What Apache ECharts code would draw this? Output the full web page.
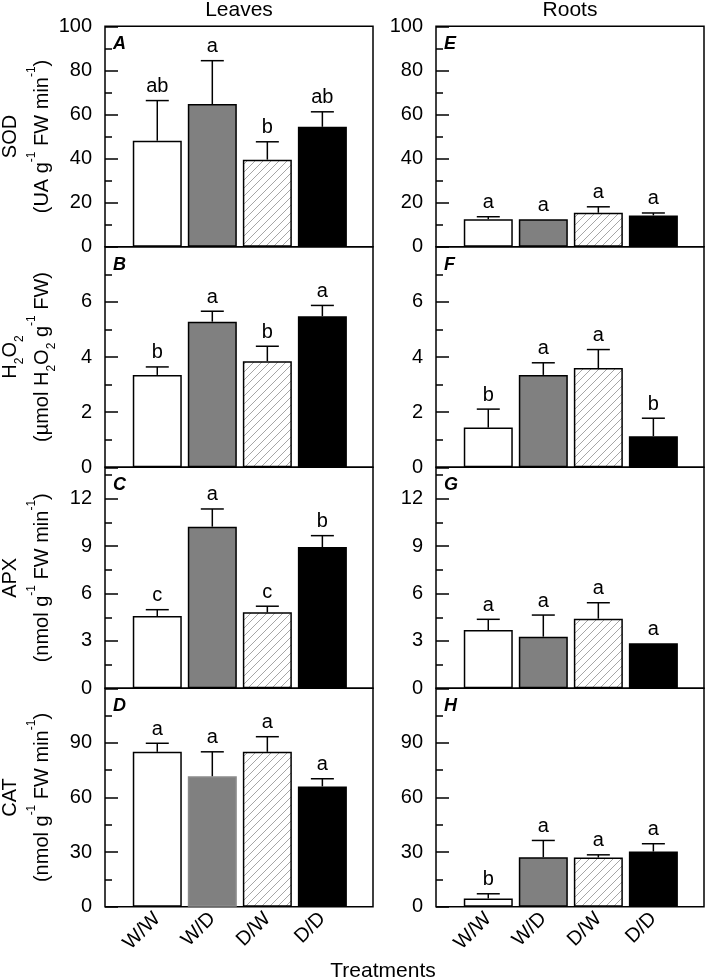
<!DOCTYPE html>
<html><head><meta charset="utf-8">
<script src="https://cdn.jsdelivr.net/npm/echarts@6/dist/echarts.min.js"></script>
<style>html,body{margin:0;padding:0;background:#fff}#c{width:706px;height:979px}</style>
</head><body><div id="c"></div>
<script>
// ---------- data ----------
const categories = ['W/W', 'W/D', 'D/W', 'D/D'];
const xPositions = [1, 2, 3, 4];

// Leaves
const sodLeaves = [48.1, 64.7, 39.5, 54.4];
const sodLeavesErr = [18.2, 19.7, 8.1, 6.8];
const sodLeavesLetters = ['ab', 'a', 'b', 'ab'];
const h2o2Leaves = [3.35, 5.28, 3.85, 5.48];
const h2o2LeavesErr = [0.29, 0.38, 0.54, 0.39];
const h2o2LeavesLetters = ['b', 'a', 'b', 'a'];
const apxLeaves = [4.58, 10.24, 4.81, 8.95];
const apxLeavesErr = [0.40, 1.12, 0.39, 0.72];
const apxLeavesLetters = ['c', 'a', 'c', 'b'];
const catLeaves = [85.1, 71.7, 85.1, 66.1];
const catLeavesErr = [4.7, 13.4, 8.3, 4.2];
const catLeavesLetters = ['a', 'a', 'a', 'a'];

// Roots
const sodRoots = [12.5, 12.4, 15.4, 14.2];
const sodRootsErr = [1.1, 0, 2.7, 1.1];
const sodRootsLetters = ['a', 'a', 'a', 'a'];
const h2o2Roots = [1.44, 3.35, 3.6, 1.13];
const h2o2RootsErr = [0.67, 0.44, 0.67, 0.65];
const h2o2RootsLetters = ['b', 'a', 'a', 'b'];
const apxRoots = [3.69, 3.27, 4.41, 2.85];
const apxRootsErr = [0.68, 1.37, 1.01, 0];
const apxRootsLetters = ['a', 'a', 'a', 'a'];
const catRoots = [4.5, 27.2, 27.0, 30.3];
const catRootsErr = [2.6, 9.2, 1.5, 4.3];
const catRootsLetters = ['b', 'a', 'a', 'a'];

// axis ticks
const sodMax = 100, sodTicks = [0, 20, 40, 60, 80, 100], sodMinor = [10, 30, 50, 70, 90];
const h2o2Max = 8, h2o2Ticks = [0, 2, 4, 6], h2o2Minor = [1, 3, 5, 7];
const apxMax = 14, apxTicks = [0, 3, 6, 9, 12], apxMinor = [1.5, 4.5, 7.5, 10.5, 13.5];
const catMax = 120, catTicks = [0, 30, 60, 90], catMinor = [15, 45, 75, 105];

const columnTitles = ['Leaves', 'Roots'];
const xTitle = 'Treatments';
const yNames = [
  '{n|SOD}\n{n|(UA g}{sup|-1}{n| FW min}{sup|-1}{n|)}',
  '{n|H}{sub|2}{n|O}{sub|2}\n{n|(µmol H}{sub|2}{n|O}{sub|2}{n| g}{sup|-1}{n| FW)}',
  '{n|APX}\n{n|(nmol g}{sup|-1}{n| FW min}{sup|-1}{n|)}',
  '{n|CAT}\n{n|(nmol g}{sup|-1}{n| FW min}{sup|-1}{n|)}'
];

// ---------- layout / style ----------
const FONT = 'Liberation Sans, Arial, Helvetica, sans-serif';
const hatchCanvas = document.createElement('canvas');
hatchCanvas.width = 8; hatchCanvas.height = 8;
(function () {
  const g = hatchCanvas.getContext('2d');
  g.fillStyle = '#fff'; g.fillRect(0, 0, 8, 8);
  g.strokeStyle = '#a6a6a6'; g.lineWidth = 1;
  g.beginPath();
  g.moveTo(-1, 9); g.lineTo(9, -1);
  g.moveTo(-1, 1); g.lineTo(1, -1);
  g.moveTo(7, 9); g.lineTo(9, 7);
  g.stroke();
})();
const fills = ['#ffffff', '#808080', { image: hatchCanvas, repeat: 'repeat' }, '#000000'];

const rowTops = [26.3, 246.7, 467.3, 688.3];
const rowBottoms = [246.7, 467.3, 688.3, 906.7];
const colLefts = [105, 436];
const gridWidth = 268;

const rows = [
  { max: sodMax, ticks: sodTicks, minor: sodMinor },
  { max: h2o2Max, ticks: h2o2Ticks, minor: h2o2Minor },
  { max: apxMax, ticks: apxTicks, minor: apxMinor },
  { max: catMax, ticks: catTicks, minor: catMinor }
];
const panels = [
  { letter: 'A', row: 0, col: 0, m: sodLeaves, e: sodLeavesErr, l: sodLeavesLetters },
  { letter: 'E', row: 0, col: 1, m: sodRoots, e: sodRootsErr, l: sodRootsLetters },
  { letter: 'B', row: 1, col: 0, m: h2o2Leaves, e: h2o2LeavesErr, l: h2o2LeavesLetters },
  { letter: 'F', row: 1, col: 1, m: h2o2Roots, e: h2o2RootsErr, l: h2o2RootsLetters },
  { letter: 'C', row: 2, col: 0, m: apxLeaves, e: apxLeavesErr, l: apxLeavesLetters },
  { letter: 'G', row: 2, col: 1, m: apxRoots, e: apxRootsErr, l: apxRootsLetters },
  { letter: 'D', row: 3, col: 0, m: catLeaves, e: catLeavesErr, l: catLeavesLetters },
  { letter: 'H', row: 3, col: 1, m: catRoots, e: catRootsErr, l: catRootsLetters }
];

const grid = [], xAxis = [], yAxis = [], series = [], graphic = [];
const rich = {
  n: { fontSize: 20, fontFamily: FONT, color: '#000', lineHeight: 32 },
  sup: { fontSize: 12, fontFamily: FONT, color: '#000', verticalAlign: 'top', lineHeight: 18 },
  sub: { fontSize: 12, fontFamily: FONT, color: '#000', verticalAlign: 'bottom', lineHeight: 18 }
};

panels.forEach((p, idx) => {
  const r = rows[p.row];
  grid.push({
    left: colLefts[p.col], width: gridWidth,
    top: rowTops[p.row], height: rowBottoms[p.row] - rowTops[p.row],
    containLabel: false, outerBoundsMode: 'none',
    show: true, borderColor: '#000', borderWidth: 1.5, backgroundColor: 'transparent'
  });
  xAxis.push({
    gridIndex: idx, type: 'value', min: 0.05, max: 4.92,
    axisLine: { show: false }, axisTick: { show: false }, splitLine: { show: false },
    axisLabel: p.row === 3 ? {
      customValues: xPositions, rotate: 45, margin: 9, fontSize: 20, fontFamily: FONT, color: '#000',
      formatter: v => categories[Math.round(v) - 1] || ''
    } : { show: false }
  });
  yAxis.push({
    gridIndex: idx, type: 'value', min: 0, max: r.max, position: 'left',
    axisLine: { show: false }, splitLine: { show: false },
    axisTick: { show: true, inside: true, length: 13, customValues: r.ticks, lineStyle: { color: '#000', width: 1.5 } },
    axisLabel: { customValues: r.ticks, fontSize: 20, fontFamily: FONT, color: '#000', margin: 13 },
    name: p.col === 0 ? yNames[p.row] : '',
    nameLocation: 'middle', nameRotate: 90, nameGap: 47, nameMoveOverlap: false,
    nameTextStyle: { rich: rich, lineHeight: 32 }
  });
  yAxis.push({
    gridIndex: idx, type: 'value', min: 0, max: r.max, position: 'left',
    axisLine: { show: false }, splitLine: { show: false },
    axisTick: { show: true, inside: true, length: 7, customValues: r.minor, lineStyle: { color: '#000', width: 1.5 } },
    axisLabel: { show: false }
  });
  series.push({
    type: 'bar', xAxisIndex: idx, yAxisIndex: idx * 2, barWidth: 49, silent: true,
    data: xPositions.map((x, i) => ({
      value: [x, p.m[i]],
      itemStyle: {
        color: fills[i],
        borderColor: (p.letter === 'D' && i === 1) ? '#8c8c8c' : '#000',
        borderWidth: 1.5
      }
    }))
  });
  series.push({
    type: 'custom', xAxisIndex: idx, yAxisIndex: idx * 2, silent: true, z: 5,
    data: xPositions.map((x, i) => [x, p.m[i], p.e[i]]),
    encode: { x: 0, y: 1 },
    renderItem: (params, api) => {
      const x = api.value(0), m = api.value(1), e = api.value(2);
      const p0 = api.coord([x, m]);
      const p1 = api.coord([x, m + e]);
      const children = [];
      if (e > 0) {
        children.push({ type: 'line', shape: { x1: p0[0], y1: p0[1], x2: p1[0], y2: p1[1] }, style: { stroke: '#000', lineWidth: 1.5 } });
        children.push({ type: 'line', shape: { x1: p1[0] - 11.5, y1: p1[1], x2: p1[0] + 11.5, y2: p1[1] }, style: { stroke: '#000', lineWidth: 1.5 } });
      }
      children.push({
        type: 'text',
        style: { text: p.l[params.dataIndex], x: p1[0], y: p1[1] - 4, align: 'center', verticalAlign: 'bottom', fontSize: 20, fontFamily: FONT, fill: '#000' }
      });
      return { type: 'group', children };
    }
  });
  graphic.push({
    type: 'text', left: colLefts[p.col] + 8, top: rowTops[p.row] + 9,
    style: { text: p.letter, font: 'italic bold 18px ' + FONT, fill: '#000' }
  });
});

columnTitles.forEach((t, c) => {
  graphic.push({
    type: 'text', x: colLefts[c] + gridWidth / 2, y: 0,
    style: { text: t, font: '21px ' + FONT, fill: '#000', align: 'center', verticalAlign: 'top' }
  });
});
graphic.push({
  type: 'text', x: 383, y: 961,
  style: { text: xTitle, font: '21px ' + FONT, fill: '#000', align: 'center', verticalAlign: 'top' }
});

const chart = echarts.init(document.getElementById('c'), null, { renderer: 'canvas' });
chart.setOption({
  animation: false,
  backgroundColor: '#fff',
  grid, xAxis, yAxis, series, graphic
});
</script>
</body></html>
